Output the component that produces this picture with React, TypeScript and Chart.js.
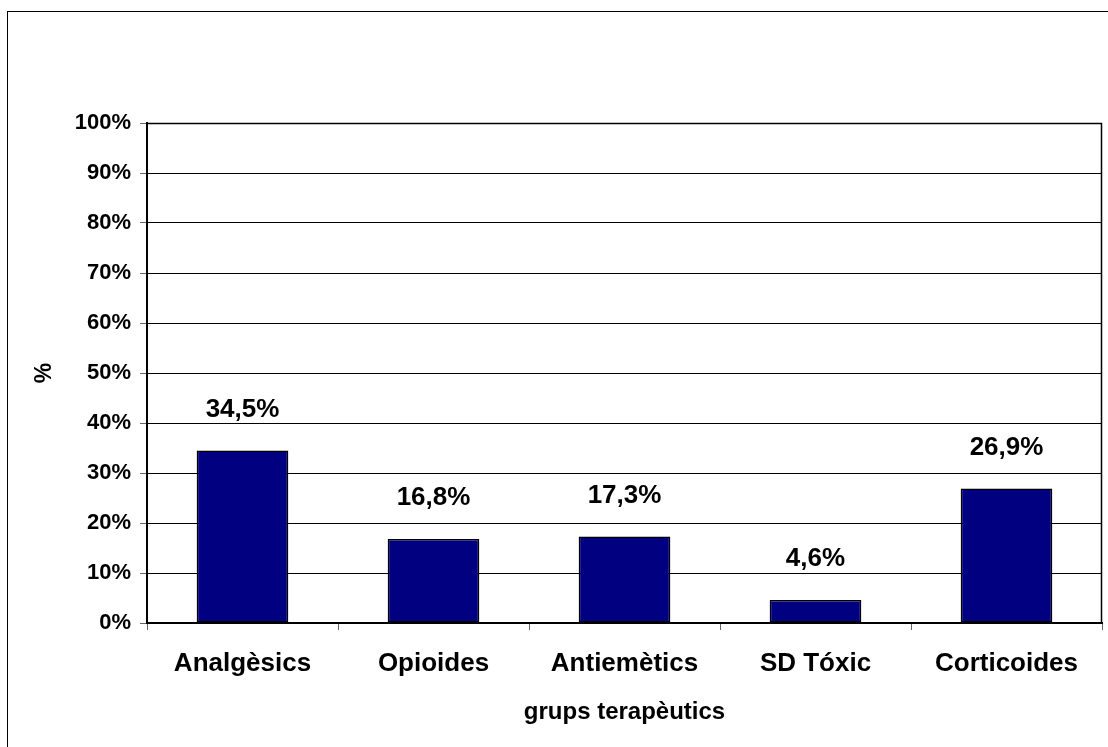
import React, { useEffect, useRef } from "react";
import { Chart, registerables } from "chart.js";

Chart.register(...registerables);

const categories = ["Analgèsics", "Opioides", "Antiemètics", "SD Tóxic", "Corticoides"];
const values = [34.5, 16.8, 17.3, 4.6, 26.9];
const yTicks = [0, 10, 20, 30, 40, 50, 60, 70, 80, 90, 100];
const xTitle = "grups terapèutics";
const yTitle = "%";

const FONT = "'Liberation Sans', Arial, sans-serif";

const fmt = (v: number) => v.toFixed(1).replace(".", ",") + "%";

const decorPlugin = {
  id: "decor",
  beforeDraw(chart: any) {
    const ctx = chart.ctx;
    ctx.save();
    ctx.fillStyle = "#fff";
    ctx.fillRect(0, 0, chart.width, chart.height);
    ctx.strokeStyle = "#000";
    ctx.lineWidth = 1;
    ctx.strokeRect(7.5, 11.5, chart.width + 10, chart.height + 10);
    ctx.restore();
  },
  afterDatasetsDraw(chart: any) {
    const ctx = chart.ctx;
    const a = chart.chartArea;
    ctx.save();
    ctx.strokeStyle = "#000";
    ctx.lineWidth = 1.5;
    ctx.beginPath();
    ctx.moveTo(a.left, a.top + 0.5);
    ctx.lineTo(a.right - 0.5, a.top + 0.5);
    ctx.lineTo(a.right - 0.5, a.bottom);
    ctx.stroke();
    const meta = chart.getDatasetMeta(0);
    ctx.fillStyle = "#000";
    ctx.font = `bold 26px ${FONT}`;
    ctx.textAlign = "center";
    ctx.textBaseline = "middle";
    meta.data.forEach((bar: any, i: number) => {
      ctx.fillText(fmt(values[i]), bar.x, bar.y - 41);
    });
    ctx.restore();
  },
};

export default function App() {
  const ref = useRef<HTMLCanvasElement>(null);
  useEffect(() => {
    if (!ref.current) return;
    const chart = new Chart(ref.current, {
      type: "bar",
      data: {
        labels: categories,
        datasets: [
          {
            data: values,
            backgroundColor: "#000080",
            borderColor: "#000",
            borderWidth: 1.5,
            borderSkipped: false,
            barPercentage: 0.48,
            categoryPercentage: 1,
          },
        ],
      },
      options: {
        responsive: false,
        animation: false,
        layout: { padding: { top: 123, right: 6, left: 0, bottom: 0 } },
        plugins: { legend: { display: false }, tooltip: { enabled: false } },
        scales: {
          x: {
            offset: true,
            grid: {
              offset: true,
              drawOnChartArea: false,
              drawTicks: true,
              tickLength: 7,
              tickColor: "#666",
            },
            border: { display: true, color: "#000", width: 2 },
            ticks: {
              color: "#000",
              font: { family: FONT, size: 26, weight: "bold" },
              padding: 18,
              maxRotation: 0,
              autoSkip: false,
            },
            title: {
              display: true,
              text: xTitle,
              color: "#000",
              font: { family: FONT, size: 24, weight: "bold" },
              padding: { top: 0, bottom: 20 },
            },
            afterFit(scale: any) {
              scale.height = 124;
            },
          },
          y: {
            min: 0,
            max: 100,
            afterBuildTicks(scale: any) {
              scale.ticks = yTicks.map((v) => ({ value: v }));
            },
            grid: {
              color: "#000",
              lineWidth: 1,
              tickLength: 7,
              tickColor: "#666",
            },
            border: { display: true, color: "#000", width: 2 },
            ticks: {
              color: "#000",
              font: { family: FONT, size: 22, weight: "bold" },
              padding: 9,
              callback: (v: any) => v + "%",
            },
            title: {
              display: true,
              text: yTitle,
              color: "#000",
              font: { family: FONT, size: 23, weight: "bold" },
              padding: { top: 31, bottom: 0 },
            },
            afterFit(scale: any) {
              scale.width = 147;
            },
          },
        },
      },
      plugins: [decorPlugin],
    });
    return () => chart.destroy();
  }, []);
  return (
    <div style={{ position: "absolute", left: 0, top: 0, width: 1108, height: 747 }}>
      <canvas ref={ref} width={1108} height={747} style={{ display: "block" }} />
    </div>
  );
}
